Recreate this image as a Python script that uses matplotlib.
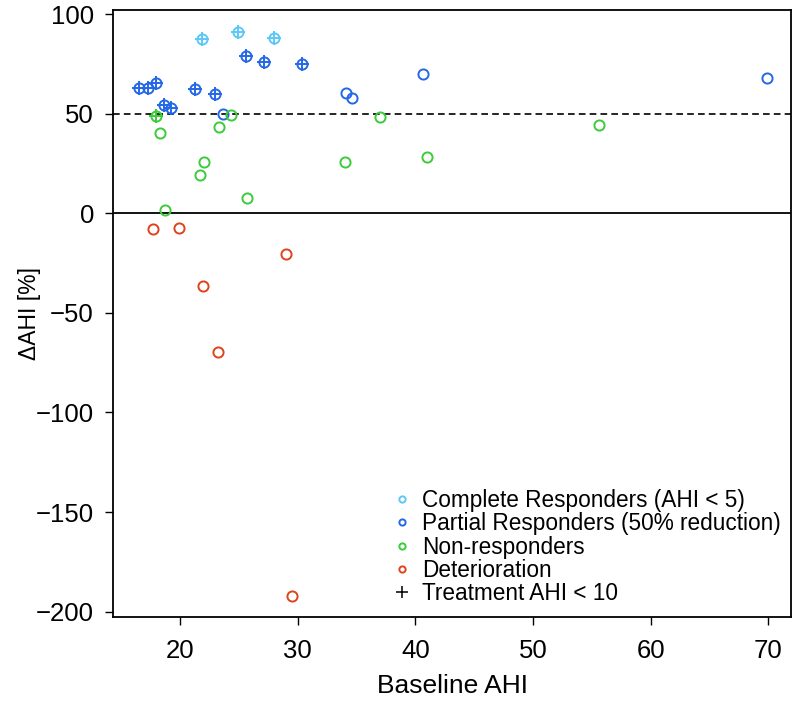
import matplotlib.pyplot as plt
from matplotlib.lines import Line2D
import numpy as np

plt.rcParams["font.family"] = ["Liberation Sans", "DejaVu Sans"]

# Baseline AHI (x) and change in AHI in % (y) per response group
complete_x = [21.9, 24.95, 27.96]
complete_y = [87.3, 90.8, 88.1]
complete_lt10 = [True, True, True]

partial_x = [16.51, 17.30, 17.93, 18.66, 19.23, 21.25, 23.0, 25.58, 27.16, 30.37,
             23.63, 34.1, 34.64, 40.68, 69.91]
partial_y = [63.0, 63.0, 65.5, 54.3, 52.7, 62.2, 59.7, 79.1, 75.8, 74.7,
             49.9, 60.5, 58.0, 70.0, 67.7]
partial_lt10 = [True] * 10 + [False] * 5

nonresp_x = [17.96, 18.3, 23.29, 24.33, 22.01, 21.72, 25.69, 18.72, 34.02, 37.02,
             41.02, 55.61]
nonresp_y = [48.8, 40.4, 43.4, 49.3, 25.6, 19.3, 7.8, 1.6, 25.6, 48.4,
             28.1, 44.3]
nonresp_lt10 = [True] + [False] * 11

deter_x = [17.68, 19.91, 29.0, 21.98, 23.2, 29.54]
deter_y = [-8.1, -7.4, -20.5, -36.5, -69.5, -192.0]
deter_lt10 = [False] * 6

groups = [
    ("Complete Responders (AHI < 5)", complete_x, complete_y, complete_lt10, "#5cc8f7"),
    ("Partial Responders (50% reduction)", partial_x, partial_y, partial_lt10, "#2468e8"),
    ("Non-responders", nonresp_x, nonresp_y, nonresp_lt10, "#3ccb3a"),
    ("Deterioration", deter_x, deter_y, deter_lt10, "#e0431c"),
]

fig = plt.figure(figsize=(7.93, 7.02), dpi=100)
ax = fig.add_axes([0.1429, 0.1207, 0.9971 - 0.1429, 0.9862 - 0.1207])

ax.axhline(0, color="black", lw=1.3, zorder=1)
ax.axhline(50, color="black", lw=1.2, ls=(0, (4, 2.5)), zorder=1)

handles = []
for label, xs, ys, flags, col in groups:
    xs = np.array(xs)
    ys = np.array(ys)
    flags = np.array(flags)
    ax.plot(xs, ys, ls="none", marker="o", ms=7.3, mfc="none", mec=col, mew=1.4, zorder=3)
    if flags.any():
        ax.plot(xs[flags], ys[flags], ls="none", marker="+", ms=9.5, mec=col, mew=1.4, zorder=3)
    handles.append(Line2D([], [], ls="none", marker="o", ms=4.5, mfc="none", mec=col,
                          mew=1.4, label=label))
handles.append(Line2D([], [], ls="none", marker="+", ms=9, mec="black", mew=1.1,
                      label="Treatment AHI < 10"))

ax.set_xlim(14.33, 71.9)
ax.set_ylim(-202.8, 102.2)
ax.set_xticks([20, 30, 40, 50, 60, 70])
ax.set_yticks([-200, -150, -100, -50, 0, 50, 100])
ax.set_yticklabels(["\u2212200", "\u2212150", "\u2212100", "\u221250", "0", "50", "100"])
ax.tick_params(axis="both", direction="out", length=6, width=1, labelsize=18.5)
ax.tick_params(axis="y", pad=8)
ax.tick_params(axis="x", pad=10)
for s in ax.spines.values():
    s.set_linewidth(1.3)

ax.set_xlabel("Baseline AHI", fontsize=19)
ax.set_ylabel("\u0394AHI [%]", fontsize=16.5)
ax.xaxis.set_label_coords(0.5, -0.0933)
ax.yaxis.set_label_coords(-0.1067, 0.5)

ax.legend(handles=handles, loc="upper left", bbox_to_anchor=(0.4124, 0.211),
          frameon=False, fontsize=16.3, handlelength=0.8, handletextpad=0.5,
          labelspacing=0.01, borderpad=0, borderaxespad=0)

plt.savefig("out.png", dpi=100)
